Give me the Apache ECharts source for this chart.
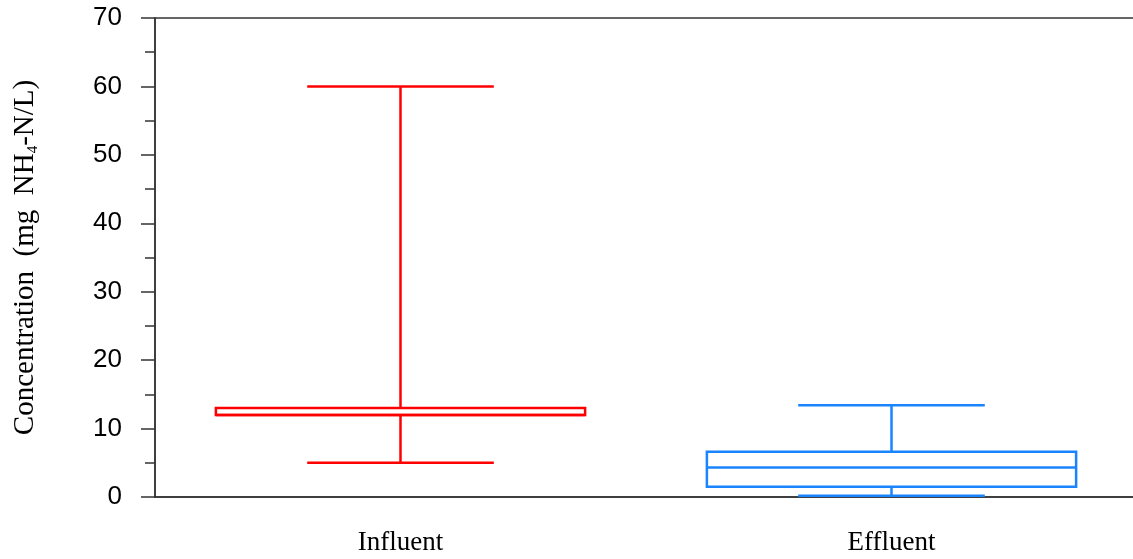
<!DOCTYPE html>
<html>
<head>
<meta charset="utf-8">
<script src="https://cdn.jsdelivr.net/npm/echarts@6/dist/echarts.min.js"></script>
<style>
  html, body { margin: 0; padding: 0; background: #fff; }
  #chart { width: 1133px; height: 559px; }
</style>
</head>
<body>
<div id="chart"></div>
<script>
// Ammonium concentration summary (mg NH4-N/L)
const categories = ['Influent', 'Effluent'];
const whiskerLow  = [5.0, 0.2];
const quartile1   = [12.0, 1.5];
const medians     = [12.0, 4.3];
const quartile3   = [13.0, 6.6];
const whiskerHigh = [60.0, 13.4];
const boxColors   = ['#ff0000', '#1a84ff'];

const yTicks = { min: 0, max: 70, step: 10 };

const boxData = categories.map((c, i) => [i, whiskerLow[i], quartile1[i], medians[i], quartile3[i], whiskerHigh[i]]);

const SERIF = "'Liberation Serif', 'Times New Roman', serif";
const SANS = "'Liberation Sans', Arial, sans-serif";

function renderBox(params, api) {
  const idx = api.value(0);
  const band = api.size([1, 0])[0];
  const boxHalf = band * 0.376;
  const capHalf = band * 0.19;
  const pLow = api.coord([idx, api.value(1)]);
  const pQ1 = api.coord([idx, api.value(2)]);
  const pMed = api.coord([idx, api.value(3)]);
  const pQ3 = api.coord([idx, api.value(4)]);
  const pHigh = api.coord([idx, api.value(5)]);
  const x = pLow[0];
  const style = { stroke: boxColors[idx], lineWidth: 2.5, fill: null };
  const line = (x1, y1, x2, y2) => ({ type: 'line', shape: { x1, y1, x2, y2 }, style });
  return {
    type: 'group',
    children: [
      line(x, pHigh[1], x, pQ3[1]),
      line(x, pQ1[1], x, pLow[1]),
      line(x - capHalf, pHigh[1], x + capHalf, pHigh[1]),
      line(x - capHalf, pLow[1], x + capHalf, pLow[1]),
      { type: 'rect', shape: { x: x - boxHalf, y: pQ3[1], width: boxHalf * 2, height: pQ1[1] - pQ3[1] }, style },
      line(x - boxHalf, pMed[1], x + boxHalf, pMed[1])
    ]
  };
}

const chart = echarts.init(document.getElementById('chart'));
chart.setOption({
  animation: false,
  backgroundColor: '#ffffff',
  grid: {
    left: 155, top: 18, width: 982, height: 479,
    containLabel: false,
    outerBoundsMode: 'none',
    show: true, borderColor: '#333', borderWidth: 1.5, backgroundColor: 'transparent'
  },
  xAxis: {
    type: 'category',
    data: categories,
    axisLine: { lineStyle: { color: '#333', width: 1.5 } },
    axisTick: { alignWithLabel: true, length: 11, lineStyle: { color: '#333', width: 1.5 } },
    axisLabel: { color: '#000', fontFamily: SERIF, fontSize: 27, margin: 32 },
    splitLine: { show: false }
  },
  yAxis: {
    type: 'value',
    min: yTicks.min, max: yTicks.max, interval: yTicks.step,
    axisLine: { show: true, lineStyle: { color: '#333', width: 1.5 } },
    axisTick: { show: true, length: 14, lineStyle: { color: '#333', width: 1.5 } },
    minorTick: { show: true, splitNumber: 2, length: 10, lineStyle: { color: '#333', width: 1.5 } },
    splitLine: { show: false },
    axisLabel: { color: '#000', fontFamily: SANS, fontSize: 26, margin: 33 },
    name: '{a|Concentration  (mg  NH}{s|4}{a|-N/L)}',
    nameLocation: 'middle',
    nameRotate: 90,
    nameGap: 114,
    nameTextStyle: {
      rich: {
        a: { fontFamily: SERIF, fontSize: 29, color: '#000', lineHeight: 32, verticalAlign: 'middle' },
        s: { fontFamily: SERIF, fontSize: 15, color: '#000', lineHeight: 15, verticalAlign: 'bottom' }
      }
    }
  },
  series: [{
    type: 'custom',
    renderItem: renderBox,
    encode: { x: 0, y: [1, 2, 3, 4, 5] },
    data: boxData,
    clip: false
  }]
});
</script>
</body>
</html>
